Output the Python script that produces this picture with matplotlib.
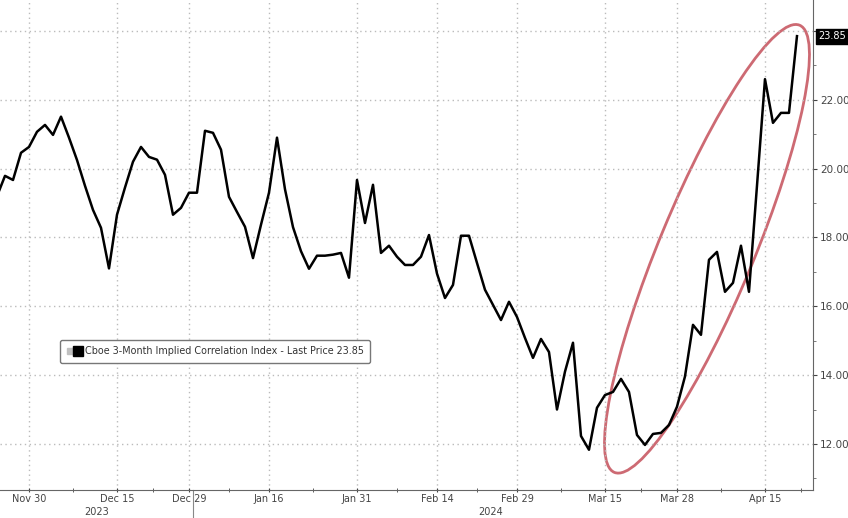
import numpy as np
import pandas as pd
import matplotlib
matplotlib.use('Agg')
import matplotlib.pyplot as plt
import matplotlib.transforms as mtransforms
from matplotlib.patches import Ellipse
from matplotlib.lines import Line2D
from matplotlib.legend_handler import HandlerTuple

plt.rcParams['font.family'] = ['Liberation Sans Narrow', 'DejaVu Sans']

# trading days (US exchange holidays skipped)
holidays = ['2023-11-23', '2023-12-25', '2024-01-01', '2024-01-15', '2024-02-19', '2024-03-29']
dates = pd.bdate_range('2023-11-24', '2024-04-19', freq='C', holidays=holidays)

# Cboe 3-Month Implied Correlation Index
values = [19.2, 19.79, 19.67, 20.46, 20.63, 21.07, 21.27, 20.98, 21.51, 20.9,
          20.25, 19.5, 18.8, 18.28, 17.1, 18.66, 19.45, 20.2, 20.63, 20.34,
          20.26, 19.82, 18.66, 18.86, 19.3, 19.3, 21.1, 21.04, 20.55, 19.18,
          18.74, 18.31, 17.4, 18.37, 19.3, 20.9, 19.4, 18.3, 17.6, 17.09,
          17.47, 17.47, 17.5, 17.55, 16.83, 19.67, 18.42, 19.53, 17.55, 17.76,
          17.44, 17.2, 17.2, 17.44, 18.07, 16.95, 16.24, 16.62, 18.05, 18.05,
          17.26, 16.48, 16.04, 15.6, 16.13, 15.69, 15.08, 14.5, 15.05, 14.67,
          13.0, 14.1, 14.94, 12.23, 11.83, 13.05, 13.42, 13.51, 13.89, 13.51,
          12.26, 11.97, 12.29, 12.32, 12.55, 13.08, 13.96, 15.46, 15.17, 17.35,
          17.58, 16.42, 16.68, 17.76, 16.42, 19.5, 22.6, 21.33, 21.62, 21.62,
          23.85]

tick_dates = ['2023-11-30', '2023-12-15', '2023-12-29', '2024-01-16', '2024-01-31',
              '2024-02-14', '2024-02-29', '2024-03-15', '2024-03-28', '2024-04-15']
tick_labels = ['Nov 30', 'Dec 15', 'Dec 29', 'Jan 16', 'Jan 31',
               'Feb 14', 'Feb 29', 'Mar 15', 'Mar 28', 'Apr 15']
y_ticks = [12, 14, 16, 18, 20, 22, 24]
years = ['2023', '2024']
series_name = 'Cboe 3-Month Implied Correlation Index - Last Price'
last_price = values[-1]

x = np.arange(len(dates))
tick_pos = dates.get_indexer(pd.to_datetime(tick_dates))

fig = plt.figure(figsize=(8.48, 5.18), dpi=100)
ax = fig.add_axes([0, 0.054, 0.9587, 0.946])

ax.plot(x, values, color='black', lw=1.8)
ax.set_xlim(0.375, 102)
ax.set_ylim(10.66, 24.9)

# right-hand price axis
ax.yaxis.tick_right()
ax.set_yticks(y_ticks)
ax.set_yticklabels(['%.2f' % v if v < 24 else '' for v in y_ticks])
ax.set_yticks([v + 1 for v in y_ticks[:-1]] + [11], minor=True)
ax.tick_params(axis='y', which='major', labelsize=7.5, colors='#444444', length=3, pad=2)
ax.tick_params(axis='y', which='minor', length=2, colors='#666666')

ax.set_xticks(tick_pos)
ax.set_xticklabels(tick_labels)
mids = list((tick_pos[:-1] + tick_pos[1:]) / 2) + [tick_pos[-1] + 4.5]
ax.set_xticks(mids, minor=True)
ax.tick_params(axis='x', which='both', labelsize=7, colors='#444444', length=3,
               direction='inout', pad=1)

ax.grid(True, which='major', linestyle=(0, (1, 2.5)), color='#bbbbbb', lw=1)
for s in ['left', 'top']:
    ax.spines[s].set_visible(False)
for s in ['right', 'bottom']:
    ax.spines[s].set_color('#666666')

# year labels and separator
blend = mtransforms.blended_transform_factory(ax.transData, ax.transAxes)
split = dates.get_indexer([pd.Timestamp('2024-01-02')])[0] - 0.5
ax.plot([split, split], [0, -0.06], transform=blend, clip_on=False, color='#888888', lw=0.8)
ax.text((0.375 + split) / 2, -0.045, years[0], transform=blend, ha='center', va='center',
        fontsize=7, color='#444444')
ax.text((split + len(x) - 2) / 2, -0.045, years[1], transform=blend, ha='center', va='center',
        fontsize=7, color='#444444')

# last price tag
tag = mtransforms.blended_transform_factory(ax.transAxes, ax.transData)
ax.annotate('%.2f' % last_price, xy=(1, last_price), xycoords=tag, xytext=(4, 0),
            textcoords='offset points', ha='left', va='center', color='white', fontsize=7,
            bbox=dict(boxstyle='square,pad=0.25', fc='black', ec='black'),
            annotation_clip=False)

# legend box
h1 = Line2D([], [], marker='s', color='#c0c0c0', ls='none', markersize=4)
h2 = Line2D([], [], marker='s', color='black', ls='none', markersize=6.5)
leg = ax.legend([(h1, h2)], ['%s %.2f' % (series_name, last_price)],
                handler_map={tuple: HandlerTuple(ndivide=None, pad=0.2)},
                loc='center left', bbox_to_anchor=(0.074, 0.283), fontsize=6.9,
                handlelength=1.6, handletextpad=0.3, borderpad=0.65, borderaxespad=0,
                fancybox=True, framealpha=1, edgecolor='#777777')
leg.get_frame().set_linewidth(1)
for t in leg.get_texts():
    t.set_color('#333333')

# red ellipse highlighting the recent surge
ell_center = (88.75, 17.67)
trans = fig.dpi_scale_trans + mtransforms.ScaledTranslation(ell_center[0], ell_center[1], ax.transData)
ax.add_patch(Ellipse((0, 0), 4.84, 0.95, angle=67.5, fill=False, ec='#c85a64', lw=2.0,
                     alpha=0.9, transform=trans, clip_on=False))

fig.savefig('out.png', dpi=100)
